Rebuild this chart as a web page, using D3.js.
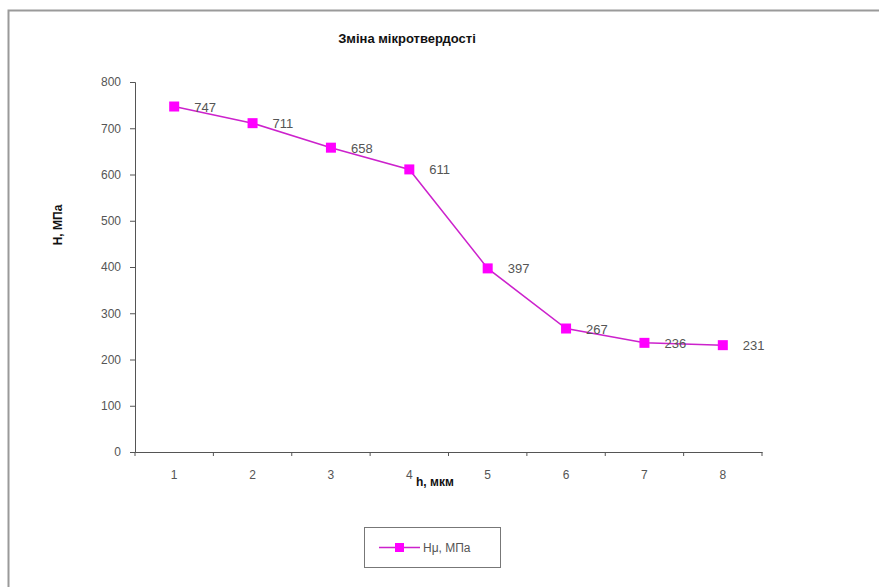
<!DOCTYPE html>
<html><head><meta charset="utf-8">
<script src="https://cdn.jsdelivr.net/npm/d3@7"></script>
<style>body{margin:0;background:#fff}svg{display:block}</style>
</head><body>
<svg id="c" width="879" height="587"></svg>
<script>
const categories = ["1","2","3","4","5","6","7","8"];
const values = [747, 711, 658, 611, 397, 267, 236, 231];
const yTicks = [0,100,200,300,400,500,600,700,800];
const seriesName = "Нμ, МПа";
const title = "Зміна мікротвердості";
const xTitle = "h, мкм";
const yTitle = "Н, МПа";

const svg = d3.select("#c");
const W = 879, H = 587;
const x0 = 135, x1 = 762, yTop = 82, yBot = 452;
const lineColor = "#cc22cc", markColor = "#ff00ff";

svg.append("rect").attr("x",8.5).attr("y",10.5).attr("width",W+20).attr("height",H+20)
  .attr("fill","#fff").attr("stroke","#9a9a9a").attr("stroke-width",2);

const x = d3.scaleBand().domain(categories).range([x0,x1]);
const y = d3.scaleLinear().domain([0,800]).range([yBot,yTop]);

const font = "Arial, 'Liberation Sans', sans-serif";

const ya = svg.append("g").attr("transform",`translate(${x0},0)`)
  .call(d3.axisLeft(y).tickValues(yTicks).tickSize(5).tickPadding(9));
ya.selectAll("text").attr("font-family",font).attr("font-size",12).attr("fill","#555");
ya.selectAll("line,path").attr("stroke","#555");

const xa = svg.append("g").attr("transform",`translate(0,${yBot})`)
  .call(d3.axisBottom(x).tickSizeInner(0).tickSizeOuter(0).tickPadding(18));
xa.select("path").attr("stroke","#555");
xa.selectAll("text").attr("font-family",font).attr("font-size",12).attr("fill","#555");
xa.selectAll(".btick").data(d3.range(categories.length+1)).join("line")
  .attr("x1",i=>x0+i*x.step()).attr("x2",i=>x0+i*x.step())
  .attr("y1",0).attr("y2",4).attr("stroke","#555");

svg.append("text").attr("x",407).attr("y",43).attr("text-anchor","middle")
  .attr("font-family",font).attr("font-weight","bold").attr("font-size",13).attr("fill","#111").text(title);
svg.append("text").attr("transform","translate(62,225) rotate(-90)").attr("text-anchor","middle")
  .attr("font-family",font).attr("font-weight","bold").attr("font-size",12).attr("fill","#111").text(yTitle);
svg.append("text").attr("x",416).attr("y",486).attr("text-anchor","start")
  .attr("font-family",font).attr("font-weight","bold").attr("font-size",12).attr("fill","#111").text(xTitle);

const cx = (d,i)=>x(categories[i])+x.bandwidth()/2;
const line = d3.line().x((d,i)=>cx(d,i)).y(d=>y(d));
svg.append("path").datum(values).attr("d",line).attr("fill","none")
  .attr("stroke",lineColor).attr("stroke-width",1.5);
svg.selectAll(".m").data(values).join("rect")
  .attr("x",(d,i)=>cx(d,i)-5).attr("y",d=>y(d)-5).attr("width",10).attr("height",10)
  .attr("fill",markColor);
svg.selectAll(".lbl").data(values).join("text")
  .attr("x",(d,i)=>cx(d,i)+20).attr("y",d=>y(d)+5)
  .attr("font-family",font).attr("font-size",13).attr("fill","#555").text(d=>d);

const lg = svg.append("g").attr("transform","translate(364,527)");
lg.append("rect").attr("x",0.5).attr("y",0.5).attr("width",136).attr("height",40)
  .attr("fill","#fff").attr("stroke","#777");
lg.append("line").attr("x1",15).attr("x2",56).attr("y1",20.5).attr("y2",20.5)
  .attr("stroke",lineColor).attr("stroke-width",1.5);
lg.append("rect").attr("x",31).attr("y",16).attr("width",9).attr("height",9).attr("fill",markColor);
lg.append("text").attr("x",59).attr("y",25).attr("font-family",font).attr("font-size",12)
  .attr("fill","#555").text(seriesName);
</script>
</body></html>
